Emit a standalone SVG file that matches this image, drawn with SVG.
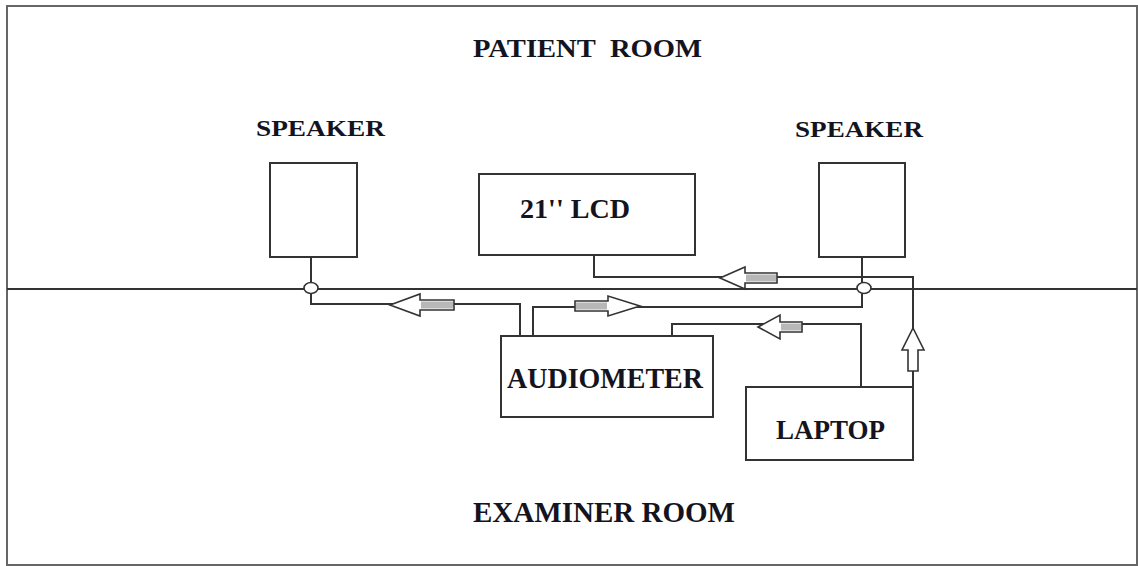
<svg xmlns="http://www.w3.org/2000/svg" width="1138" height="566" viewBox="0 0 1138 566">
<style>
.box{fill:#fff;stroke:#333;stroke-width:2}
.wire{fill:none;stroke:#333;stroke-width:2}
.lbl{font-family:"Liberation Serif","Times New Roman",serif;font-weight:bold;fill:#141420}
.arr{fill:#fff;stroke:#333;stroke-width:1.6}
.shaft{fill:#b8b8b8}
.jn{fill:#fff;stroke:#333;stroke-width:1.6}
</style>
<rect x="0" y="0" width="1138" height="566" fill="#fff"/>
<rect x="7" y="6" width="1130" height="559" fill="none" stroke="#666" stroke-width="2"/>
<line x1="7" y1="289" x2="1137" y2="289" stroke="#333" stroke-width="2"/>
<text class="lbl" x="473" y="57" font-size="26" textLength="229" lengthAdjust="spacingAndGlyphs">PATIENT&#160; ROOM</text>
<text class="lbl" x="473" y="522" font-size="29" textLength="262" lengthAdjust="spacingAndGlyphs">EXAMINER ROOM</text>
<g id="connectors">
<path class="wire" d="M311,257 V283"/>
<path class="wire" d="M311,293 V304 H520 V336"/>
<path class="wire" d="M533,336 V307 H862 V293"/>
<path class="wire" d="M862,257 V283"/>
<path class="wire" d="M594,255 V277 H913 V387"/>
<path class="wire" d="M861,387 V324 H672 V336"/>
<g id="arrow1"><polygon class="arr" points="390,305 420,294 420,300 454,300 454,310 420,310 420,316"/><rect class="shaft" x="421" y="301.5" width="32" height="7"/></g>
<g id="arrow2"><polygon class="arr" points="640,306 608,296 608,301 575,301 575,311 608,311 608,316"/><rect class="shaft" x="576" y="302.5" width="31" height="7"/></g>
<g id="arrow3"><polygon class="arr" points="720,278 745,267 745,273 777,273 777,283 745,283 745,289"/><rect class="shaft" x="746" y="274.5" width="30" height="7"/></g>
<g id="arrow4"><polygon class="arr" points="758,327 780,315 780,322 802,322 802,332 780,332 780,339"/><rect class="shaft" x="781" y="323.5" width="20" height="7"/></g>
<g id="arrow5"><polygon class="arr" points="913,328 924,350 918,350 918,371 908,371 908,350 902,350"/></g>
<ellipse class="jn" cx="311" cy="288" rx="7" ry="5.5"/>
<ellipse class="jn" cx="864" cy="288" rx="7" ry="5.5"/>
</g>
<g id="speaker-left"><rect class="box" x="270" y="163" width="87" height="94"/><text class="lbl" x="256" y="136" font-size="24" textLength="129" lengthAdjust="spacingAndGlyphs">SPEAKER</text></g>
<g id="speaker-right"><rect class="box" x="819" y="163" width="86" height="94"/><text class="lbl" x="795" y="137" font-size="24" textLength="128" lengthAdjust="spacingAndGlyphs">SPEAKER</text></g>
<g id="lcd"><rect class="box" x="479" y="174" width="216" height="81"/><text class="lbl" x="520" y="218" font-size="27" textLength="110" lengthAdjust="spacingAndGlyphs">21'' LCD</text></g>
<g id="audiometer"><rect class="box" x="501" y="336" width="212" height="81"/><text class="lbl" x="507" y="388" font-size="29" textLength="196" lengthAdjust="spacingAndGlyphs">AUDIOMETER</text></g>
<g id="laptop"><rect class="box" x="746" y="387" width="167" height="73"/><text class="lbl" x="776" y="439" font-size="27" textLength="109" lengthAdjust="spacingAndGlyphs">LAPTOP</text></g>
</svg>
